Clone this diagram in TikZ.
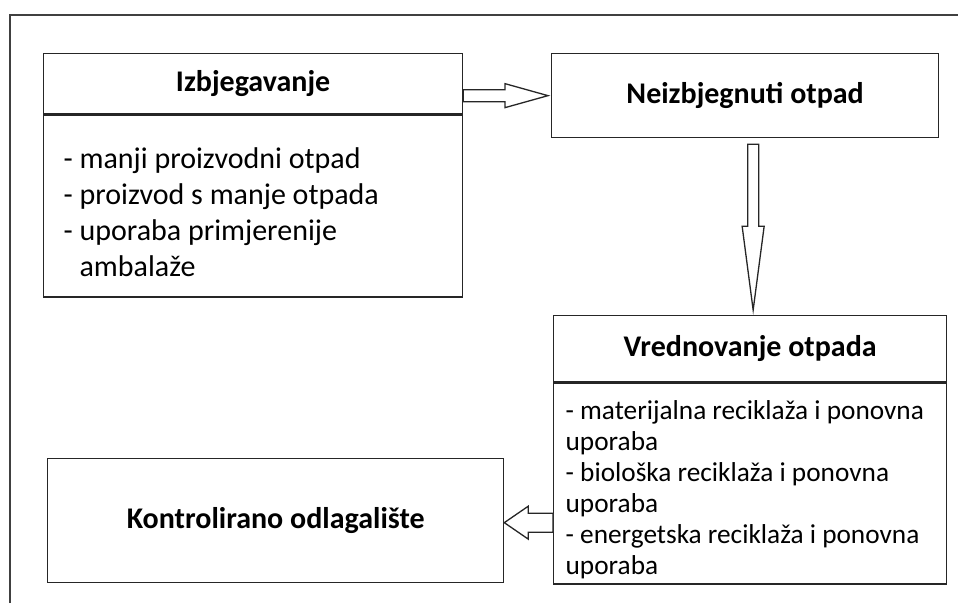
\documentclass[tikz,border=0pt]{standalone}
\usepackage{fontspec}
\setmainfont{Carlito}
\usetikzlibrary{calc}

\begin{document}
\begin{tikzpicture}[
		x=1pt, y=-1pt,
		every node/.style={
				draw=black!85,
				line width=1.3pt,
				inner sep=0pt
			},
		titlebox/.style={
				font=\fontsize{30}{36}\selectfont\bfseries
			},
		bigitems/.style={
				font=\fontsize{30}{36}\selectfont,
				align=flush left,
				text width=379pt,
				inner xsep=20pt,
				text height=54pt,
				text depth=128pt
			},
		smallitems/.style={
				font=\fontsize{27.3}{31}\selectfont,
				align=flush left,
				text width=369pt,
				inner xsep=12pt,
				text height=37pt,
				text depth=164pt
			},
		blockarrow/.style={
				draw=black!85,
				line width=1.3pt,
				fill=white
			}
	]
	\useasboundingbox (0,0) rectangle (958,603);
	\draw[draw=black!75, line width=1.5pt] (10,603) -- (10,15) -- (958,15);

	\node[titlebox, minimum width=419pt, minimum height=60pt, anchor=north west] (izb) at (43,53) {Izbjegavanje};
	\node[bigitems, anchor=north] (izbList) at (izb.south) {- manji proizvodni otpad\\- proizvod s manje otpada\\- uporaba primjerenije\\\phantom{- }ambalaže};
	\node[titlebox, minimum width=387pt, minimum height=84pt, anchor=north west] (neiz) at (551,53) {Neizbjegnuti otpad};
	\node[titlebox, minimum width=393pt, minimum height=66pt, anchor=north west] (vred) at (553,315) {Vrednovanje otpada};
	\node[smallitems, anchor=north] (vredList) at (vred.south) {- materijalna reciklaža i ponovna\\uporaba\\- biološka reciklaža i ponovna\\uporaba\\- energetska reciklaža i ponovna\\uporaba};
	\node[titlebox, minimum width=456pt, minimum height=124pt, anchor=north west] (kont) at (47,458) {Kontrolirano odlagalište};

	\coordinate (a1) at (izb.east |- neiz.west);
	\draw[blockarrow] ($(a1)+(0,-6)$) -- ($(neiz.west)+(-46,-6)$) -- ($(neiz.west)+(-46,-12)$) -- ($(neiz.west)+(-3,0)$) -- ($(neiz.west)+(-46,12)$) -- ($(neiz.west)+(-46,6)$) -- ($(a1)+(0,6)$) -- cycle;

	\coordinate (a2) at ($(neiz.south)+(8,6)$);
	\draw[blockarrow] ($(a2)+(-5.5,0)$) -- ($(a2)+(5.5,0)$) -- ($(a2)+(5.5,82)$) -- ($(a2)+(11,82)$) -- ($(a2 |- vred.north)+(0,-5)$) -- ($(a2)+(-11,82)$) -- ($(a2)+(-5.5,82)$) -- cycle;

	\coordinate (a3) at ($(kont.east)+(0,2)$);
	\draw[blockarrow] (a3) -- ($(a3)+(24,-16.5)$) -- ($(a3)+(24,-9.5)$) -- ($(a3 -| vredList.west)+(0,-9.5)$) -- ($(a3 -| vredList.west)+(0,9.5)$) -- ($(a3)+(24,9.5)$) -- ($(a3)+(24,16.5)$) -- cycle;
\end{tikzpicture}
\end{document}
